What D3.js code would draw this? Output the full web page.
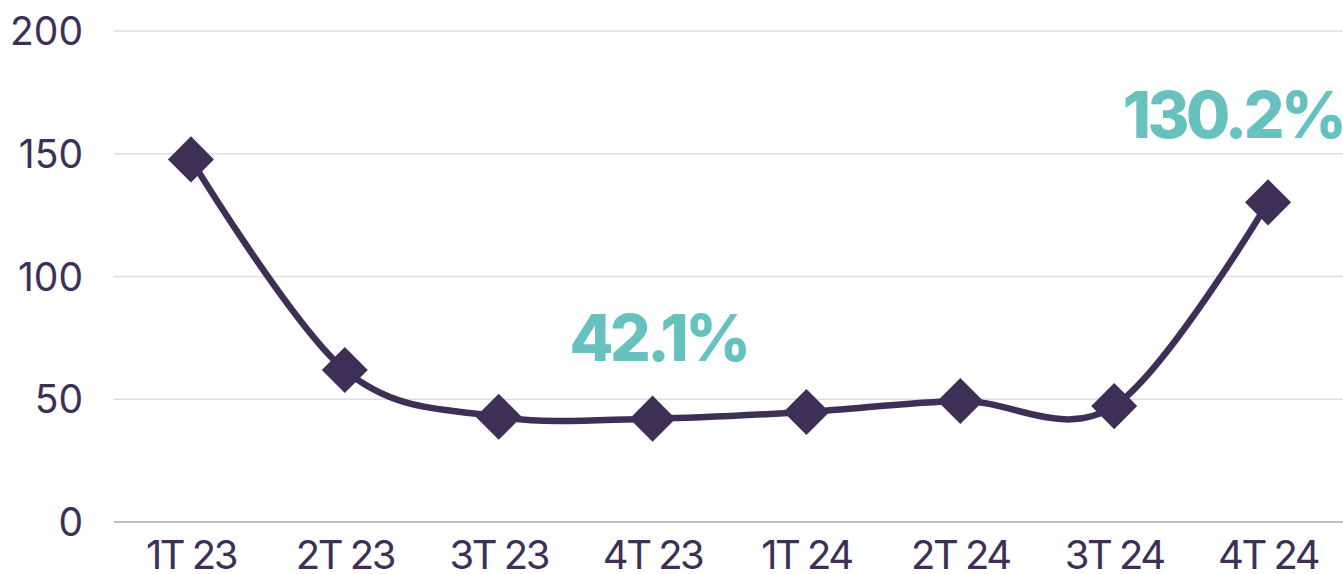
<!DOCTYPE html>
<html>
<head>
<meta charset="utf-8">
<script src="https://cdn.jsdelivr.net/npm/d3@7"></script>
<style>
   html, body { margin: 0; padding: 0; background: #ffffff; }
   svg { display: block; font-family: Inter, "Noto Sans", sans-serif; }
</style>
</head>
<body>
<div id="chart"></div>
<script>

// CHART DATA
var quarters = ['1T 23', '2T 23', '3T 23', '4T 23', '1T 24', '2T 24', '3T 24', '4T 24'];
var values = [147.7, 61.9, 42.9, 42.1, 44.8, 49.3, 47.2, 130.2];
var yTicks = [0, 50, 100, 150, 200];

// HIGHLIGHTED VALUES (INDEX INTO QUARTERS)
var highlights = [3, 7];
var highlightLabels = ['42.1%', '130.2%'];

// SETTINGS
var settings = {
   width: 1343,
   height: 574,
   left: 114,
   right: 1345,
   top: 31,
   bottom: 522,
   ink: '#3e2f56',
   teal: '#67c1bf',
   grid: '#deDDe4',
   axis: '#aca8b8'
};

// CANVAS
var canvas = d3.select('#chart').append('svg')
   .attr('width', settings.width)
   .attr('height', settings.height)

// X-SCALING
var xScale = d3.scalePoint()
   .domain(quarters)
   .range([settings.left, settings.right])
   .padding(0.5)

// Y-SCALING
var yScale = d3.scaleLinear()
   .domain([0, 200])
   .range([settings.bottom, settings.top])

// GRIDLINES
canvas.append('g')
   .selectAll('line')
   .data(yTicks)
      .enter().append('line')
         .attr('x1', settings.left)
         .attr('x2', settings.width)
         .attr('y1', (d) => { return yScale(d) })
         .attr('y2', (d) => { return yScale(d) })
         .attr('stroke', (d) => { return d == 0 ? settings.axis : settings.grid })
         .attr('stroke-width', 1.5)

// Y AXIS LABELS
canvas.append('g')
   .selectAll('text')
   .data(yTicks)
      .enter().append('text')
         .attr('x', 83)
         .attr('y', (d) => { return yScale(d) + 14 })
         .attr('text-anchor', 'end')
         .attr('font-size', 39)
         .attr('fill', settings.ink)
         .text((d) => { return d })

// X AXIS LABELS
canvas.append('g')
   .selectAll('text')
   .data(quarters)
      .enter().append('text')
         .attr('x', (d) => { return xScale(d) })
         .attr('y', 569)
         .attr('text-anchor', 'middle')
         .attr('font-size', 40)
         .attr('letter-spacing', -2.5)
         .attr('fill', settings.ink)
         .text((d) => { return d })

// SMOOTHED LINE
var pathify = d3.line()
   .x((d, i) => { return xScale(quarters[i]) })
   .y((d) => { return yScale(d) })
   .curve(d3.curveCardinal.tension(0))

canvas.append('path')
   .attr('d', pathify(values))
   .attr('fill', 'none')
   .attr('stroke', settings.ink)
   .attr('stroke-width', 6.5)
   .attr('stroke-linejoin', 'round')

// DIAMOND MARKERS
var diamond = d3.symbol().type(d3.symbolSquare).size(1060);

canvas.append('g')
   .selectAll('path')
   .data(values)
      .enter().append('path')
         .attr('d', diamond)
         .attr('transform', (d, i) => { return 'translate(' + xScale(quarters[i]) + ',' + yScale(d) + ') rotate(45)' })
         .attr('fill', settings.ink)

// HIGHLIGHT LABELS
canvas.append('g')
   .selectAll('text')
   .data(highlights)
      .enter().append('text')
         .attr('x', (d, i) => { return xScale(quarters[d]) + (i == 0 ? 6 : -35) })
         .attr('y', (d, i) => { return yScale(values[d]) + (i == 0 ? -58 : -64) })
         .attr('text-anchor', 'middle')
         .attr('font-size', 64)
         .attr('font-weight', 800)
         .attr('letter-spacing', -3.5)
         .attr('fill', settings.teal)
         .text((d, i) => { return highlightLabels[i] })

</script>
</body>
</html>
